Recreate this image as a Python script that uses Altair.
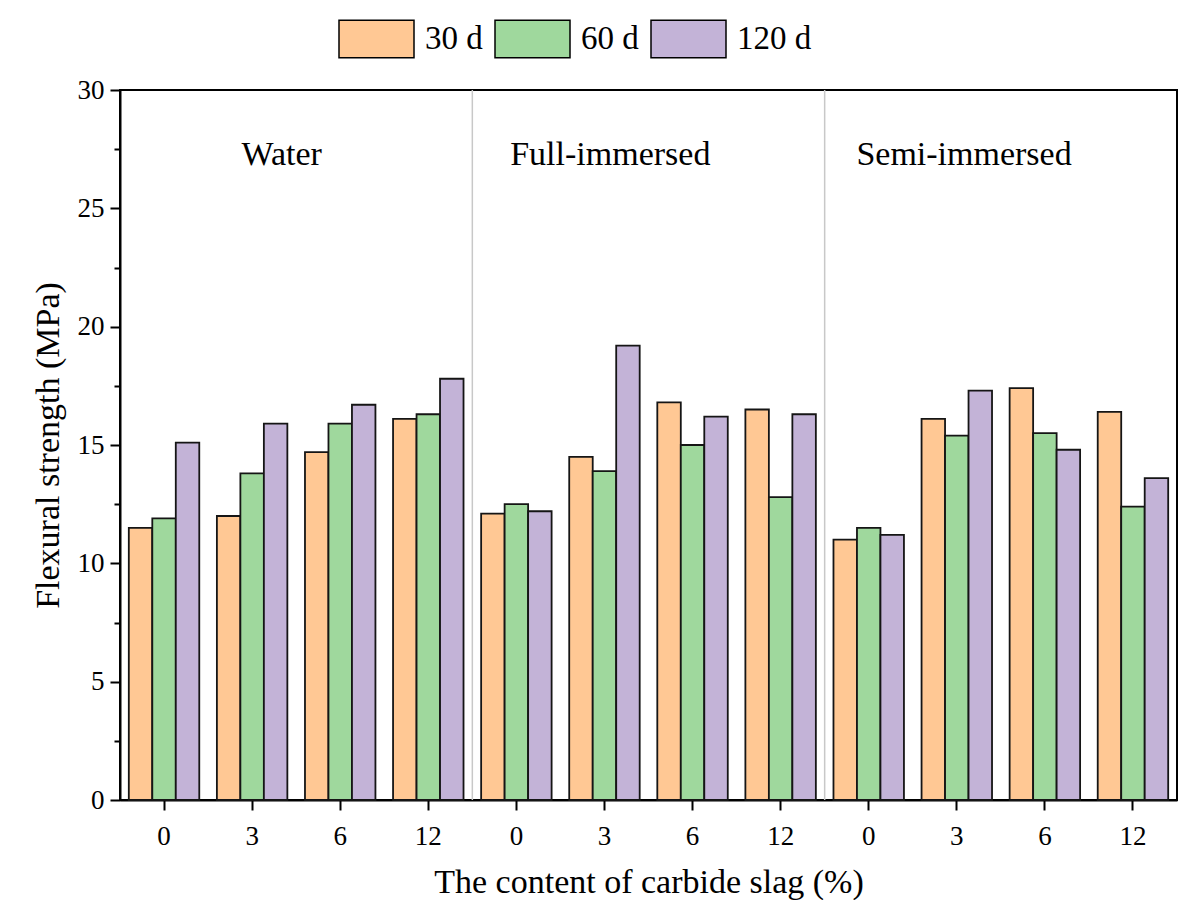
import altair as alt
import pandas as pd

conditions = ["Water", "Full-immersed", "Semi-immersed"]
contents = ["0", "3", "6", "12"]
ages = ["30 d", "60 d", "120 d"]
values_30 = [11.5, 12.0, 14.7, 16.1, 12.1, 14.5, 16.8, 16.5, 11.0, 16.1, 17.4, 16.4]
values_60 = [11.9, 13.8, 15.9, 16.3, 12.5, 13.9, 15.0, 12.8, 11.5, 15.4, 15.5, 12.4]
values_120 = [15.1, 15.9, 16.7, 17.8, 12.2, 19.2, 16.2, 16.3, 11.2, 17.3, 14.8, 13.6]
colors = ["#FFC894", "#9FD89D", "#C3B3D7"]

separator_pos = [4, 8]            # in group-index units
label_x = [1.38, 4.43, 8.36]      # in group-index units
label_y = [26.83, 26.83, 26.83]

FONT = "Liberation Serif"

groups = [f"{c}|{k}" for c in conditions for k in contents]
rows = []
series = {"30 d": values_30, "60 d": values_60, "120 d": values_120}
for age in ages:
    for g, v in zip(groups, series[age]):
        rows.append({"group": g, "age": age, "value": v})
df = pd.DataFrame(rows)

sep_df = pd.DataFrame({"pos": separator_pos})
lab_df = pd.DataFrame({"pos": label_x, "y": label_y, "text": conditions})

bars = alt.Chart(df).mark_bar(stroke="#151515", strokeWidth=1.8).encode(
    x=alt.X("group:N", sort=groups,
            scale=alt.Scale(paddingInner=0.2, paddingOuter=0.1),
            axis=alt.Axis(title="The content of carbide slag (%)",
                          labelExpr="split(datum.label, '|')[1]",
                          labelAngle=0, labelFont=FONT, labelFontSize=27,
                          labelColor="black", labelPadding=13,
                          titleFont=FONT, titleFontSize=34, titleFontWeight="normal",
                          titleColor="black", titlePadding=16,
                          tickSize=10, tickWidth=2, tickColor="black",
                          domainColor="black", domainWidth=2, grid=False)),
    xOffset=alt.XOffset("age:N", sort=ages,
                        scale=alt.Scale(paddingInner=0, paddingOuter=0)),
    y=alt.Y("value:Q", scale=alt.Scale(domain=[0, 30], nice=False),
            axis=alt.Axis(title="Flexural strength (MPa)", values=[0, 5, 10, 15, 20, 25, 30],
                          labelFont=FONT, labelFontSize=27, labelColor="black",
                          labelPadding=6,
                          titleFont=FONT, titleFontSize=34, titleFontWeight="normal",
                          titleColor="black", titlePadding=12,
                          tickSize=10, tickWidth=2, tickColor="black",
                          domainColor="black", domainWidth=2, grid=False)),
    color=alt.Color("age:N", sort=ages,
                    scale=alt.Scale(domain=ages, range=colors),
                    legend=alt.Legend(title=None, orient="none", direction="horizontal",
                                      legendX=218, legendY=-90,
                                      symbolType="M-1,-0.5H1V0.5H-1Z", symbolSize=5625,
                                      symbolStrokeColor="black", symbolStrokeWidth=1.5,
                                      symbolOpacity=1,
                                      labelFont=FONT, labelFontSize=33, labelColor="black",
                                      labelOffset=10, columnPadding=9)),
)

seps = alt.Chart(sep_df).mark_rule(color="#c8c8c8", strokeWidth=1.5).encode(
    x=alt.X("pos:Q", scale=alt.Scale(domain=[0, 12], nice=False, zero=False), axis=None),
)

labels = alt.Chart(lab_df).mark_text(font=FONT, fontSize=34, color="black",
                                     align="left", baseline="alphabetic").encode(
    x=alt.X("pos:Q", scale=alt.Scale(domain=[0, 12], nice=False, zero=False), axis=None),
    y=alt.Y("y:Q", scale=alt.Scale(domain=[0, 30], nice=False),
            axis=alt.Axis(orient="left", title=None, labels=False, domain=False,
                          values=[2.5, 7.5, 12.5, 17.5, 22.5, 27.5],
                          tickSize=6, tickWidth=2, tickColor="black", grid=False)),
    text="text:N",
)

chart = alt.layer(bars, seps, labels).resolve_scale(
    x="independent"
).resolve_axis(
    y="independent"
).properties(
    width=1057, height=710,
    autosize=alt.AutoSizeParams(type="none"),
    padding={"left": 112, "top": 82, "right": 15, "bottom": 100},
).configure_view(stroke="black", strokeWidth=2)

chart.save("out.html", embed_options={"renderer": "svg", "actions": False})
